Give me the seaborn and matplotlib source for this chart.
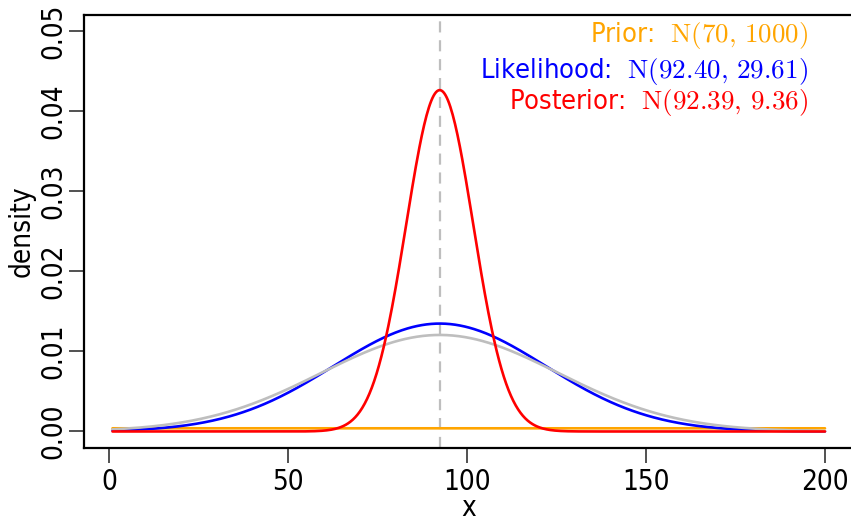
import numpy as np
import pandas as pd
import matplotlib
matplotlib.use("Agg")
import matplotlib.pyplot as plt
from matplotlib import font_manager as fm
import seaborn as sns

# ---- data ----
curve_names = ["Prior", "Likelihood", "Posterior"]
curve_means = [70.0, 92.40, 92.39]
curve_sds = [1000.0, 29.61, 9.36]
curve_colors = ["#FFA500", "#0000FF", "#FF0000"]
legend_labels = [r"Prior:  $\mathrm{N}(70,\,1000)$",
                 r"Likelihood:  $\mathrm{N}(92.40,\,29.61)$",
                 r"Posterior:  $\mathrm{N}(92.39,\,9.36)$"]
gray_mean = 92.40
gray_sd = 33.1
vline_x = 92.40
x_from, x_to = 1, 200
x_ticks = [0, 50, 100, 150, 200]
y_ticks = [0.00, 0.01, 0.02, 0.03, 0.04, 0.05]
y_ticklabels = ["0.00", "0.01", "0.02", "0.03", "0.04", "0.05"]

# ---- font choice: a narrow sans if available ----
entries = [(f.name, str(f.stretch)) for f in fm.fontManager.ttflist]
family, stretch = "DejaVu Sans", "normal"
if any(n == "Liberation Sans Narrow" for n, _ in entries):
    family = "Liberation Sans Narrow"
elif any(n == "DejaVu Sans" and "condensed" in s for n, s in entries):
    stretch = "condensed"

sns.set_theme(style="ticks")
plt.rcParams["font.family"] = [family, "DejaVu Sans"]
plt.rcParams["font.stretch"] = stretch
plt.rcParams["mathtext.fontset"] = "cm"

W, H = 851, 522
fig = plt.figure(figsize=(W / 100, H / 100), dpi=100)
# axes frame in pixels; the right side runs past the picture edge (as in the reference)
ax_l, ax_r, ax_t, ax_b = 84, 880, 15, 447.5
ax = fig.add_axes([ax_l / W, 1 - ax_b / H, (ax_r - ax_l) / W, (ax_b - ax_t) / H])

def npdf(x, m, s):
    return np.exp(-0.5 * ((x - m) / s) ** 2) / (s * np.sqrt(2 * np.pi))

xs = np.linspace(x_from, x_to, 600)

ax.axvline(vline_x, color="#BEBEBE", lw=1.6, dashes=(5, 3.5), zorder=1)

frames = {}
for name, m, s in zip(curve_names, curve_means, curve_sds):
    frames[name] = pd.DataFrame({"x": xs, "density": npdf(xs, m, s)})
gray_df = pd.DataFrame({"x": xs, "density": npdf(xs, gray_mean, gray_sd)})

sns.lineplot(data=frames["Prior"], x="x", y="density", color=curve_colors[0], lw=1.9, ax=ax, zorder=2)
sns.lineplot(data=frames["Likelihood"], x="x", y="density", color=curve_colors[1], lw=1.9, ax=ax, zorder=3)
sns.lineplot(data=gray_df, x="x", y="density", color="#BEBEBE", lw=1.9, ax=ax, zorder=4)
sns.lineplot(data=frames["Posterior"], x="x", y="density", color=curve_colors[2], lw=1.9, ax=ax, zorder=5)

# R-style 4% padding on the left; same scale continued to the right
span = x_to - x_from
x_lo = x_from - 0.04 * span
x_hi_r = x_to + 0.04 * span
px_per_x = (853.5 - ax_l) / (x_hi_r - x_lo)
ax.set_xlim(x_lo, x_lo + (ax_r - ax_l) / px_per_x)
ax.set_ylim(-0.002, 0.052)

ax.set_xticks(x_ticks)
ax.set_xticklabels([str(t) for t in x_ticks])
ax.set_yticks(y_ticks)
ax.set_yticklabels(y_ticklabels, rotation=90, va="center", ha="right")

ax.tick_params(axis="both", direction="out", length=11, width=1.1, color="#222222",
               labelsize=20, labelcolor="black")
ax.tick_params(axis="x", pad=4)
ax.tick_params(axis="y", pad=1, right=False)
for name, sp in ax.spines.items():
    sp.set_linewidth(1.6)
    sp.set_color("black")
ax.spines["right"].set_visible(False)

ax.set_xlabel("x", fontsize=20, color="black")
ax.set_ylabel("density", fontsize=20, color="black")
xl_center = (x_lo + (853.5 - ax_l) / px_per_x / 2)  # centre of the R plot region
ax.xaxis.set_label_coords((xl_center - x_lo) * px_per_x / (ax_r - ax_l), -0.108)
ax.yaxis.set_label_coords(-48 / (ax_r - ax_l), 0.5)

# legend texts (right-aligned, coloured)
px_per_unit_y = (ax_b - ax_t) / (0.052 + 0.002)
zero_px = ax_b - 0.002 * px_per_unit_y
x_right = x_lo + (808 - ax_l) / px_per_x
baselines_px = [42, 78, 109]
for lab, col, bpx in zip(legend_labels, curve_colors, baselines_px):
    ax.text(x_right, (zero_px - bpx) / px_per_unit_y, lab, color=col, fontsize=19.5,
            ha="right", va="baseline")

fig.savefig("out.png", dpi=100)
